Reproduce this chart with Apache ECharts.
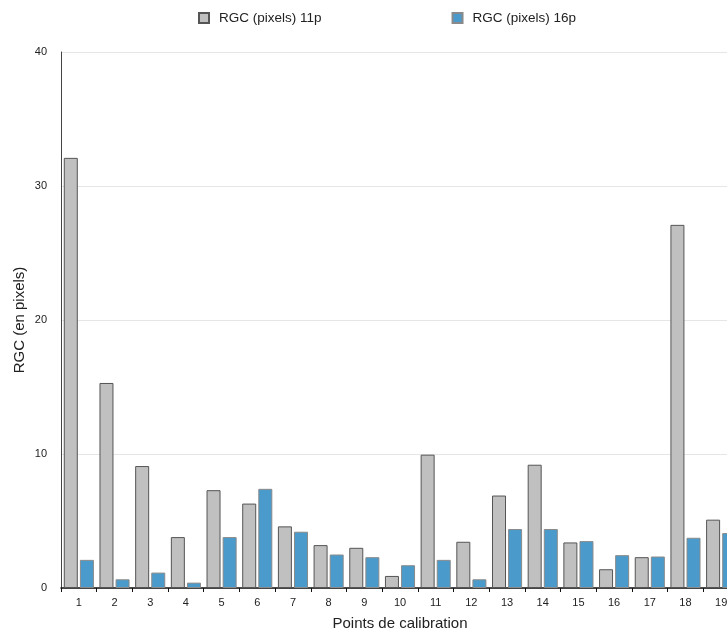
<!DOCTYPE html>
<html>
<head>
<meta charset="utf-8">
<script src="https://cdn.jsdelivr.net/npm/echarts@6/dist/echarts.min.js"></script>
<style>
  html, body { margin: 0; padding: 0; overflow: hidden; background: #fff; }
  #chart { width: 760px; height: 634px; }
</style>
</head>
<body>
<div id="chart"></div>
<script>
// Calibration points and retinal ganglion cell (RGC) error, in pixels
const categories = ['1','2','3','4','5','6','7','8','9','10','11','12','13','14','15','16','17','18','19'];
const rgc11p = [32.1, 15.3, 9.1, 3.8, 7.3, 6.3, 4.6, 3.2, 3.0, 0.9, 9.95, 3.45, 6.9, 9.2, 3.4, 1.4, 2.3, 27.1, 5.1];
const rgc16p = [2.1, 0.65, 1.15, 0.4, 3.8, 7.4, 4.2, 2.5, 2.3, 1.7, 2.1, 0.65, 4.4, 4.4, 3.5, 2.45, 2.35, 3.75, 4.1];
const yTicks = { min: 0, max: 40, step: 10 };

const font = '"Liberation Sans", Arial, Helvetica, sans-serif';
const chart = echarts.init(document.getElementById('chart'));

chart.setOption({
  animation: false,
  textStyle: { fontFamily: font },
  legend: {
    left: 193,
    top: 6,
    itemWidth: 10,
    itemHeight: 10,
    itemGap: 130,
    icon: 'rect',
    textStyle: { fontSize: 13.5, color: '#222', fontFamily: font, padding: [0, 0, 0, 5] }
  },
  grid: { left: 61, right: 21, top: 52, bottom: 46, containLabel: false, outerBoundsMode: 'none' },
  xAxis: {
    type: 'category',
    data: categories,
    name: 'Points de calibration',
    nameLocation: 'middle',
    nameGap: 28,
    nameMoveOverlap: false,
    nameTextStyle: { fontSize: 15, color: '#222', fontFamily: font },
    axisLine: { lineStyle: { color: '#111', width: 1.5 } },
    axisTick: { show: true, length: 4, lineStyle: { color: '#111' } },
    axisLabel: { fontSize: 11, color: '#222', margin: 9, fontFamily: font },
    splitLine: { show: false }
  },
  yAxis: {
    type: 'value',
    min: yTicks.min,
    max: yTicks.max,
    interval: yTicks.step,
    name: 'RGC (en pixels)',
    nameLocation: 'middle',
    nameGap: 34,
    nameMoveOverlap: false,
    nameTextStyle: { fontSize: 15, color: '#222', fontFamily: font },
    axisLine: { show: true, lineStyle: { color: '#444', width: 1 } },
    axisTick: { show: false },
    axisLabel: { fontSize: 11, color: '#222', margin: 14, fontFamily: font },
    splitLine: { show: true, lineStyle: { color: '#e6e6e6', width: 1 } }
  },
  series: [
    {
      name: 'RGC (pixels) 11p',
      type: 'bar',
      data: rgc11p,
      barWidth: 14,
      barGap: '15%',
      itemStyle: { color: '#c0c0c0', borderColor: '#555', borderWidth: 1 }
    },
    {
      name: 'RGC (pixels) 16p',
      type: 'bar',
      data: rgc16p,
      barWidth: 14,
      itemStyle: { color: '#4a9bcb', borderColor: '#8a8a8a', borderWidth: 1 }
    }
  ]
});
</script>
</body>
</html>
